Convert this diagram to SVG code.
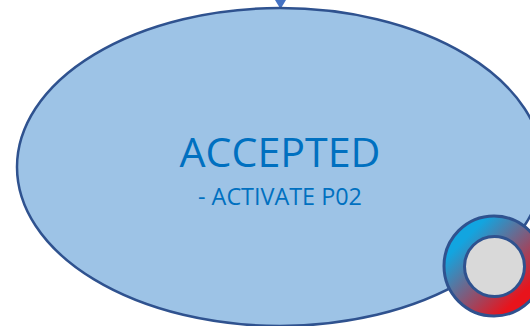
<svg xmlns="http://www.w3.org/2000/svg" width="530" height="326" viewBox="0 0 530 326">
<style>
.s{stroke:#2f528f;stroke-width:2.500}
.r{stroke:#2f528f;stroke-width:3}
.t{font-family:"Open Sans","Noto Sans",sans-serif;fill:#0070c0;text-anchor:middle}
</style>
<defs>
<linearGradient id="g" x1="0.15" y1="0.15" x2="0.85" y2="0.85">
<stop offset="0.1" stop-color="#12a5e0"/>
<stop offset="0.9" stop-color="#e8141c"/>
</linearGradient>
</defs>
<rect width="530" height="326" fill="#fff"/>
<g id="connectors">
<polygon points="275,0 286,0 280.500,9" fill="#4472c4"/>
</g>
<g id="accepted">
<ellipse class="s" cx="280" cy="167" rx="263" ry="159" fill="#9dc3e6"/>
<text class="t" x="280" y="167" font-size="41" textLength="201" lengthAdjust="spacingAndGlyphs">ACCEPTED</text>
<text class="t" x="280" y="205" font-size="23.300" textLength="164" lengthAdjust="spacingAndGlyphs">- ACTIVATE P02</text>
</g>
<g id="badge">
<circle class="r" cx="494" cy="266" r="50" fill="url(#g)"/>
<circle class="r" cx="494.500" cy="266.500" r="30" fill="#d9d9d9"/>
</g>
</svg>
